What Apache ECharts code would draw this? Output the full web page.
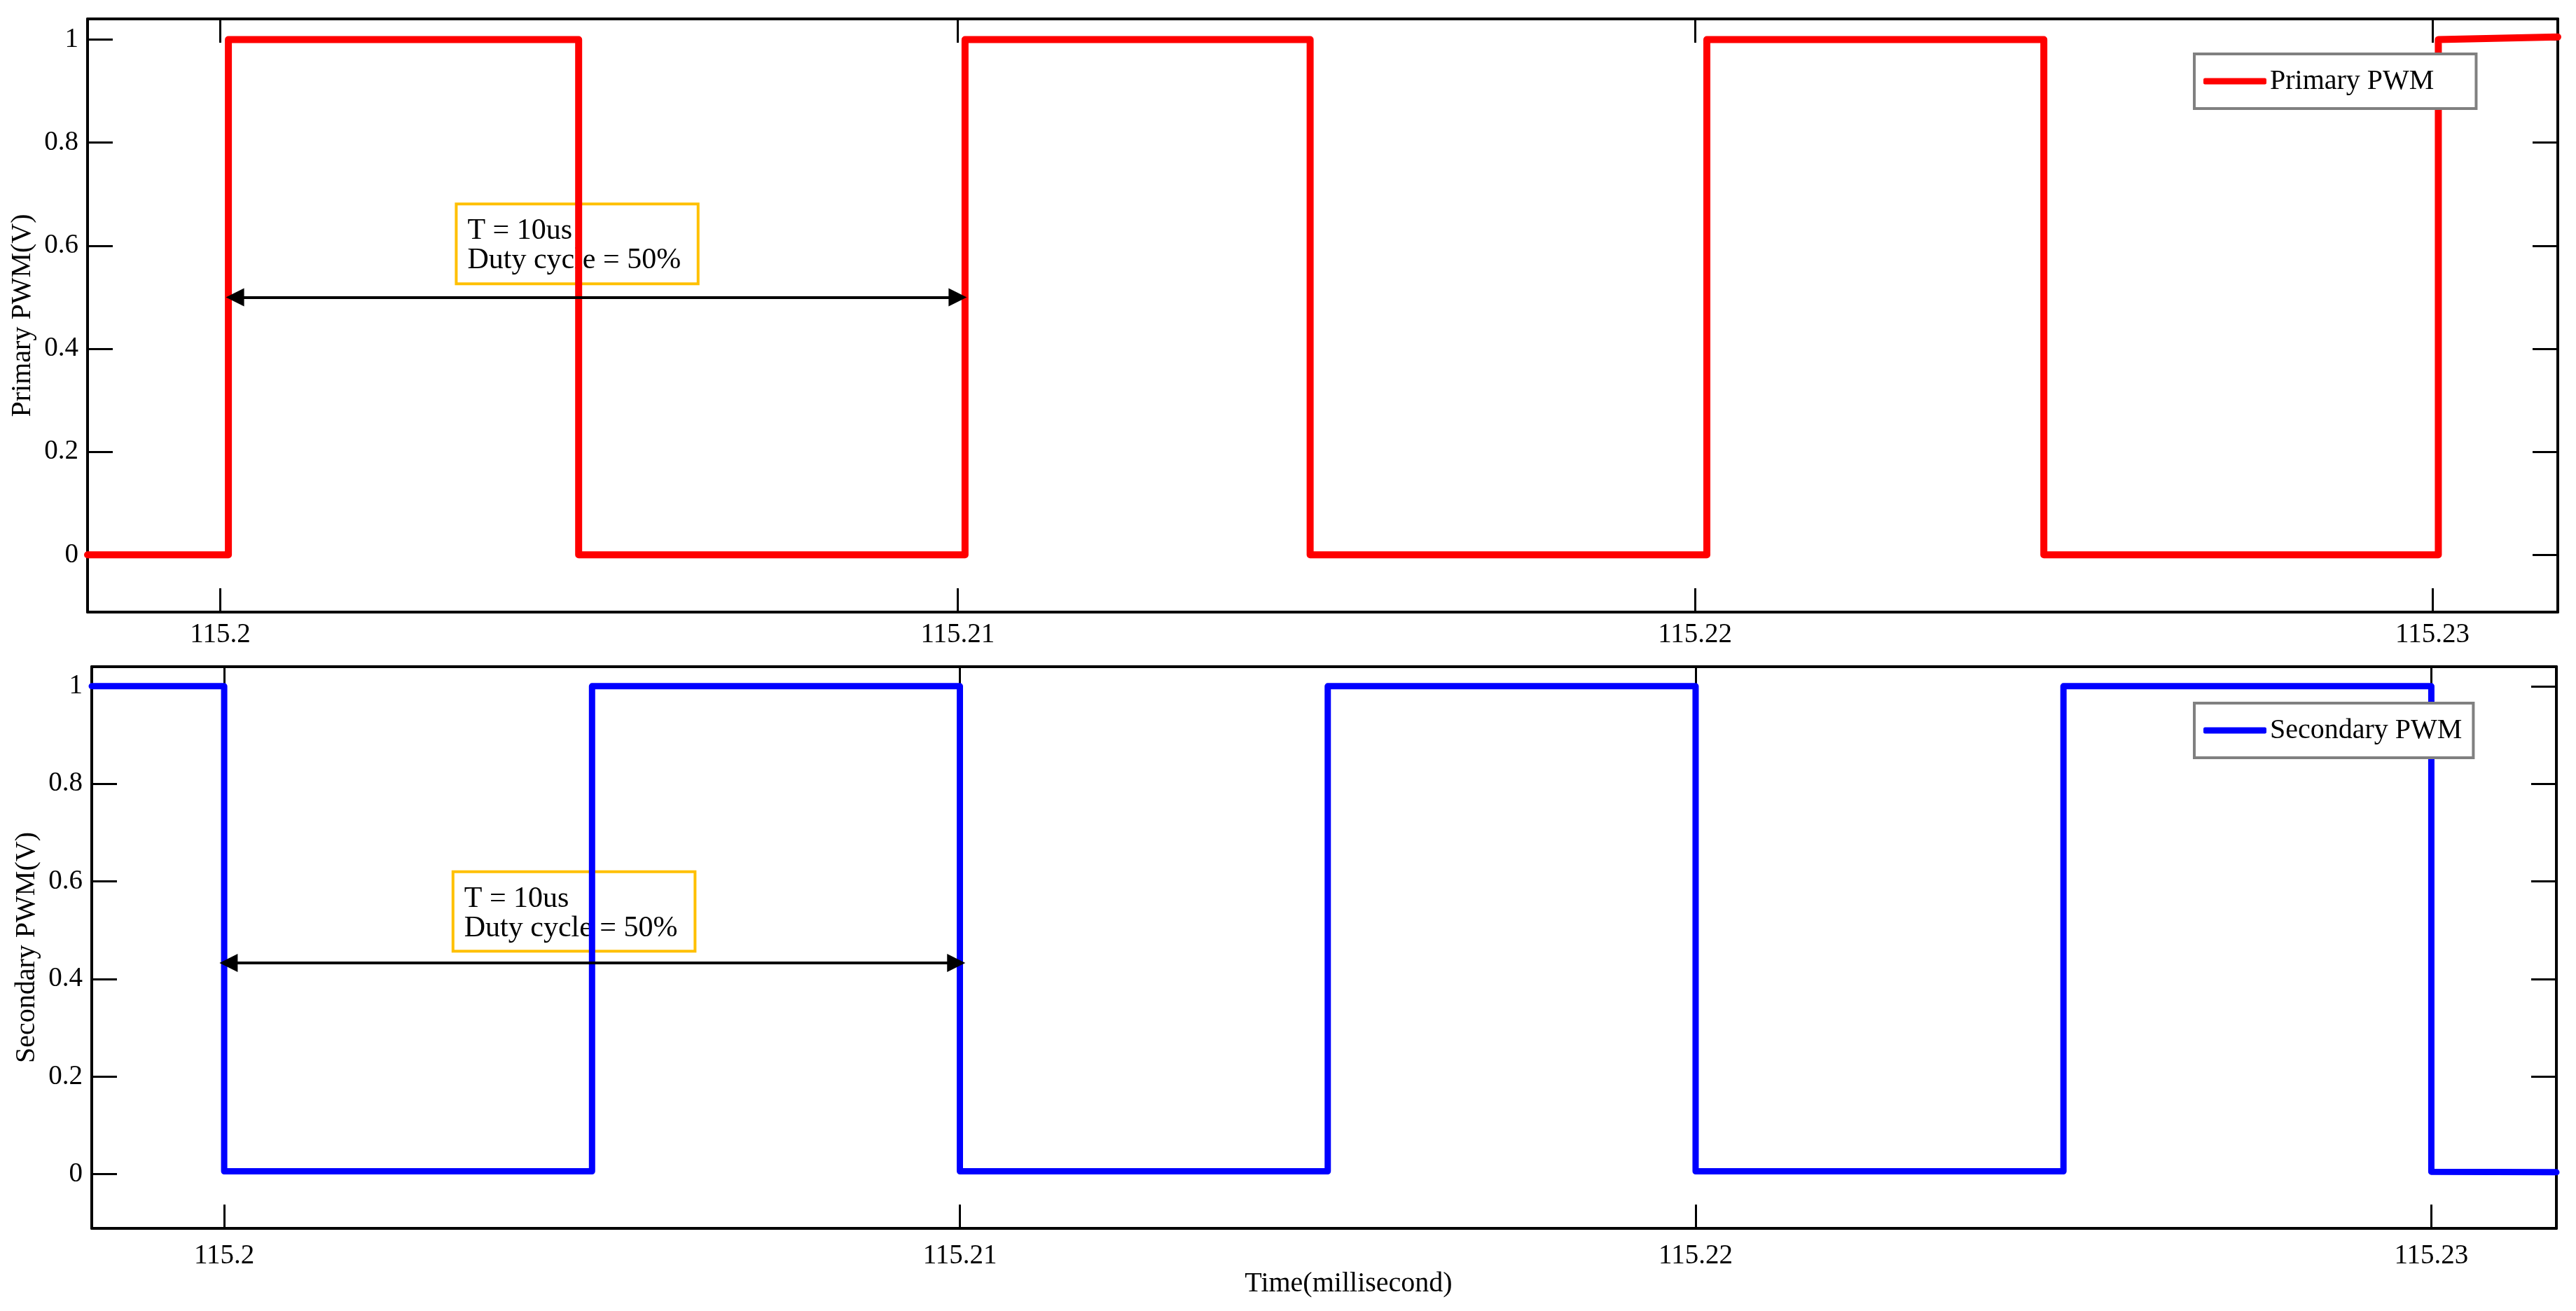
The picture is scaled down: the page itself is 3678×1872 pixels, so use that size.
<!DOCTYPE html>
<html>
<head>
<meta charset="utf-8">
<title>Primary / Secondary PWM</title>
<script src="https://cdn.jsdelivr.net/npm/echarts@6.0.0/dist/echarts.min.js"></script>
<style>
html, body { margin: 0; padding: 0; background: #fff; }
#pwm { width: 3678px; height: 1872px; }
</style>
</head>
<body>
<div id="pwm"></div>
<script>
// time axis (millisecond)
var timeMin = 115.1982;
var timeMax = 115.2317;
var timeTicks = [115.2, 115.21, 115.22, 115.23];
var voltTicks = [0, 0.2, 0.4, 0.6, 0.8, 1];
var voltMin = -0.111;
var voltMax = 1.04;

// primary PWM (red) - edges
var primaryTime = [115.1982, 115.20011, 115.20011, 115.20486, 115.20486, 115.21010, 115.21010,
	115.21478, 115.21478, 115.22016, 115.22016, 115.22473, 115.22473, 115.23008, 115.23008, 115.2317];
var primaryVolt = [0, 0, 1, 1, 0, 0, 1, 1, 0, 0, 1, 1, 0, 0, 1, 1.005];

// secondary PWM (blue)
var secondaryTime = [115.1982, 115.2, 115.2, 115.205, 115.205, 115.21, 115.21,
	115.215, 115.215, 115.22, 115.22, 115.225, 115.225, 115.23, 115.23, 115.2317];
var secondaryVolt = [1, 1, 0.006, 0.006, 1, 1, 0.006, 0.006, 1, 1, 0.006, 0.006, 1, 1, 0.005, 0.004];

// period arrows and note boxes
var primaryArrow = [[115.2002, 0.5], [115.2100, 0.5]];
var secondaryArrow = [[115.20006, 0.433], [115.20995, 0.433]];
var primaryNoteBox = [[115.2032, 0.681], [115.20648, 0.526]];
var secondaryNoteBox = [[115.20311, 0.620], [115.2064, 0.457]];
var noteText = 'T = 10us\nDuty cycle = 50%';

function zip(xs, ys) {
	var out = [];
	for (var i = 0; i < xs.length; i++) out.push([xs[i], ys[i]]);
	return out;
}

var serif = 'Liberation Serif';

function xAxisFor(gridIndex, pos, withLabel, margin, name) {
	return {
		type: 'value', gridIndex: gridIndex, position: pos,
		min: timeMin, max: timeMax,
		name: name || '', nameLocation: 'middle', nameGap: 58,
		nameTextStyle: { fontFamily: serif, fontSize: 40, color: '#000', padding: [0, 0, 0, 70] },
		axisLine: { show: true, onZero: false, lineStyle: { color: '#000', width: 4 } },
		axisTick: { show: true, inside: true, length: 34, customValues: timeTicks, lineStyle: { color: '#000', width: 3 } },
		axisLabel: { show: withLabel, customValues: timeTicks, margin: margin, fontFamily: serif, fontSize: 39, color: '#000' },
		splitLine: { show: false }
	};
}

function yAxisFor(gridIndex, pos, withLabel, name) {
	return {
		type: 'value', gridIndex: gridIndex, position: pos,
		min: voltMin, max: voltMax,
		name: name || '', nameLocation: 'middle', nameGap: 43,
		nameTextStyle: { fontFamily: serif, fontSize: 40, color: '#000' },
		axisLine: { show: true, onZero: false, lineStyle: { color: '#000', width: 4 } },
		axisTick: { show: true, inside: true, length: 36, customValues: voltTicks, lineStyle: { color: '#000', width: 3 } },
		axisLabel: { show: withLabel, customValues: voltTicks, margin: 13, fontFamily: serif, fontSize: 39, color: '#000' },
		splitLine: { show: false }
	};
}

// note box + double arrow, drawn above the waveform
function noteSeries(idx, arrow, box) {
	return {
		type: 'line', name: 'note' + idx, xAxisIndex: idx * 2, yAxisIndex: idx * 2,
		data: [], z: 10, silent: true,
		markLine: {
			silent: true, symbol: ['triangle', 'triangle'], symbolSize: 26,
			label: { show: false },
			lineStyle: { color: '#000', width: 4, type: 'solid' },
			emphasis: { disabled: true },
			data: [[{ coord: arrow[0] }, { coord: arrow[1] }]]
		},
		markArea: {
			silent: true,
			itemStyle: { color: '#fff', borderColor: '#FFC000', borderWidth: 4 },
			label: {
				show: true, position: 'insideTopLeft', distance: 0, padding: [20, 0, 0, 18],
				formatter: noteText, fontFamily: serif, fontSize: 42, lineHeight: 42, color: '#000'
			},
			emphasis: { disabled: true },
			data: [[{ coord: box[0] }, { coord: box[1] }]]
		}
	};
}

function legendFor(name, top, padRight) {
	return {
		data: [name], left: 3133, top: top, selectedMode: false,
		backgroundColor: '#fff', borderColor: '#808080', borderWidth: 4,
		padding: [19, padRight, 19, 13], itemWidth: 90, itemHeight: 9, icon: 'roundRect',
		textStyle: { fontFamily: serif, fontSize: 40, color: '#000' }
	};
}

var chart = echarts.init(document.getElementById('pwm'));
chart.setOption({
	animation: false,
	backgroundColor: '#fff',
	grid: [
		{ left: 125, top: 27, width: 3527, height: 847 },
		{ left: 131, top: 952, width: 3519, height: 802 }
	],
	legend: [
		legendFor('Primary PWM', 77, 60),
		legendFor('Secondary PWM', 1004, 16)
	],
	xAxis: [
		xAxisFor(0, 'bottom', true, 13),
		xAxisFor(0, 'top', false, 13),
		xAxisFor(1, 'bottom', true, 20, 'Time(millisecond)'),
		xAxisFor(1, 'top', false, 13)
	],
	yAxis: [
		yAxisFor(0, 'left', true, 'Primary PWM(V)'),
		yAxisFor(0, 'right', false),
		yAxisFor(1, 'left', true, 'Secondary PWM(V)'),
		yAxisFor(1, 'right', false)
	],
	series: [
		{
			name: 'Primary PWM', type: 'line', xAxisIndex: 0, yAxisIndex: 0,
			data: zip(primaryTime, primaryVolt), symbol: 'none', z: 3,
			lineStyle: { color: '#FF0000', width: 10, cap: 'round', join: 'round' },
			itemStyle: { color: '#FF0000' }
		},
		{
			name: 'Secondary PWM', type: 'line', xAxisIndex: 2, yAxisIndex: 2,
			data: zip(secondaryTime, secondaryVolt), symbol: 'none', z: 3,
			lineStyle: { color: '#0000FF', width: 9, cap: 'round', join: 'round' },
			itemStyle: { color: '#0000FF' }
		},
		noteSeries(0, primaryArrow, primaryNoteBox),
		noteSeries(1, secondaryArrow, secondaryNoteBox)
	]
});
</script>
</body>
</html>
